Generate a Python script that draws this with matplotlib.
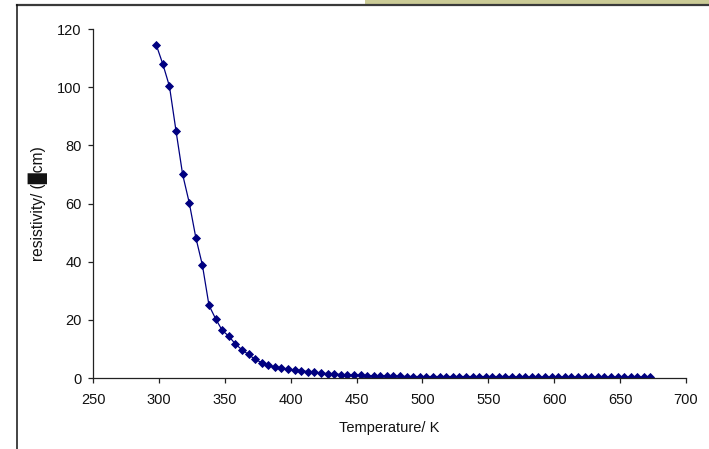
import matplotlib
matplotlib.use("Agg")
import matplotlib.pyplot as plt
from matplotlib.lines import Line2D
from matplotlib.patches import Rectangle

plt.rcParams["font.family"] = ["Liberation Sans", "DejaVu Sans"]

# resistivity vs temperature, readings every 5 K from 298 K up to 673 K
temperature = [298 + 5 * i for i in range(76)]
resistivity = [
    114.5, 107.9, 100.3, 84.9, 70.0, 60.3, 48.3, 38.8, 25.0, 20.4,
    16.4, 14.4, 11.7, 9.7, 8.1, 6.4, 5.3, 4.4, 3.7, 3.3,
    3.0, 2.8, 2.5, 2.2, 1.9, 1.7, 1.5, 1.4, 1.2, 1.1,
    1.0, 1.0, 0.8, 0.8, 0.8, 0.8, 0.8, 0.6, 0.5, 0.5,
    0.5, 0.5, 0.5, 0.5, 0.5, 0.5, 0.5, 0.5, 0.5, 0.5,
    0.5, 0.5, 0.5, 0.5, 0.5, 0.3, 0.3, 0.3, 0.3, 0.3,
    0.3, 0.3, 0.3, 0.3, 0.3, 0.3, 0.3, 0.3, 0.3, 0.3,
    0.3, 0.3, 0.3, 0.3, 0.3, 0.3,
]
xticks = list(range(250, 701, 50))
yticks = list(range(0, 121, 20))

fs = 10.5

fig = plt.figure(figsize=(7.09, 4.49), dpi=100)
ax = fig.add_axes([0.1312, 0.1581, 0.8364, 0.7773])

ax.plot(temperature, resistivity, color="#000080", lw=0.9,
        marker="D", ms=3.9, mfc="#000080", mec="#000080", mew=0.6)

ax.set_xlim(250, 700)
ax.set_ylim(0, 120)
ax.set_xticks(xticks)
ax.set_yticks(yticks)
for s in ("top", "right"):
    ax.spines[s].set_visible(False)
for s in ("left", "bottom"):
    ax.spines[s].set_color("#222222")
    ax.spines[s].set_linewidth(0.9)
ax.tick_params(direction="out", length=3.6, width=0.9, color="#222222",
               labelsize=fs, labelcolor="#111111")
ax.tick_params(axis="x", pad=7.5)
ax.tick_params(axis="y", pad=4.5)

ax.set_xlabel("Temperature/ K", fontsize=fs, color="#111111", labelpad=9.5)
ax.set_ylabel("resistivity/ (\u2588cm)", fontsize=11.2, color="#111111", labelpad=6.5)

# frame lines and the strip along the top edge
fig.add_artist(Rectangle((0.5148, 0.991), 0.4852, 0.009, transform=fig.transFigure,
                         facecolor="#cbcb96", edgecolor="none"))
fig.add_artist(Line2D([0.024, 1.0], [0.9889, 0.9889], transform=fig.transFigure,
                      color="#3a3a3a", lw=1.6))
fig.add_artist(Line2D([0.024, 0.024], [0.0, 0.9889], transform=fig.transFigure,
                      color="#111111", lw=1.1))

fig.savefig("out.png", dpi=100)
